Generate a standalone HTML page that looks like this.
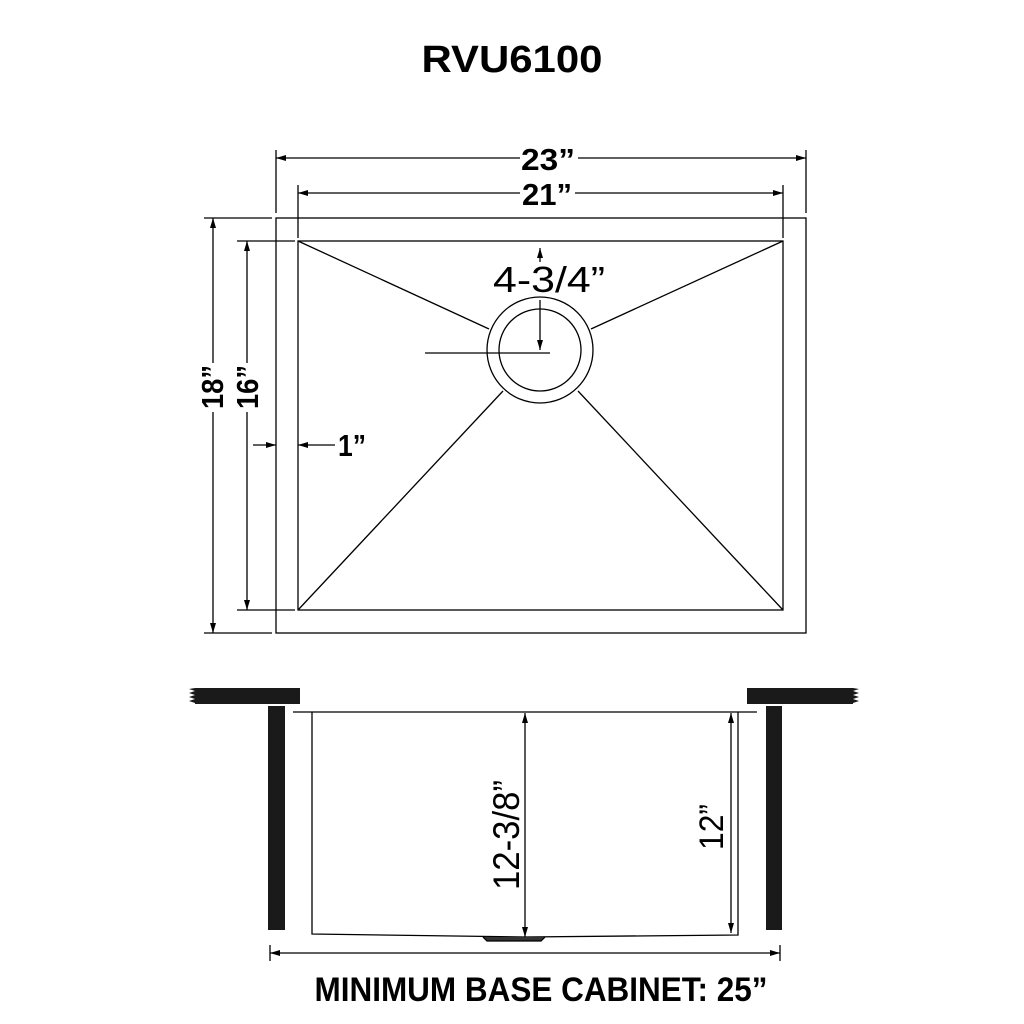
<!DOCTYPE html>
<html><head><meta charset="utf-8"><style>
html,body{margin:0;padding:0;background:#fff;}
svg{display:block;}
text{font-family:"Liberation Sans",sans-serif;fill:#000;}
</style></head><body>
<svg width="1024" height="1024" viewBox="0 0 1024 1024" xmlns="http://www.w3.org/2000/svg">
<defs>
<marker id="a" viewBox="0 0 10 6" refX="10" refY="3" markerWidth="10" markerHeight="6" markerUnits="userSpaceOnUse" orient="auto-start-reverse"><path d="M0,0 L10,3 L0,6 z" fill="#000"/></marker>
</defs>
<rect width="1024" height="1024" fill="#fff"/>
<text x="512" y="72" text-anchor="middle" font-size="38" font-weight="bold" textLength="181" lengthAdjust="spacingAndGlyphs">RVU6100</text>

<g stroke="#000" stroke-width="1.3" fill="none">
<rect x="276" y="218" width="530" height="415"/>
<rect x="298" y="241" width="485" height="369"/>
<circle cx="540" cy="350" r="53"/>
<circle cx="540" cy="350" r="41"/>
<line x1="298" y1="241" x2="489" y2="329"/>
<line x1="783" y1="241" x2="591" y2="329"/>
<line x1="298" y1="610" x2="503" y2="391"/>
<line x1="783" y1="610" x2="578" y2="391"/>
<line x1="425" y1="353" x2="550" y2="353"/>
<line x1="540" y1="262" x2="540" y2="248" marker-end="url(#a)"/>
<line x1="540" y1="300" x2="540" y2="350" marker-end="url(#a)"/>
<line x1="276" y1="150" x2="276" y2="213"/>
<line x1="806" y1="150" x2="806" y2="213"/>
<line x1="298" y1="185" x2="298" y2="238"/>
<line x1="783" y1="185" x2="783" y2="238"/>
<line x1="204" y1="218" x2="272" y2="218"/>
<line x1="237" y1="241" x2="295" y2="241"/>
<line x1="204" y1="633" x2="272" y2="633"/>
<line x1="237" y1="610" x2="295" y2="610"/>
<line x1="520" y1="158" x2="276" y2="158" marker-end="url(#a)"/>
<line x1="578" y1="158" x2="806" y2="158" marker-end="url(#a)"/>
<line x1="520" y1="193" x2="298" y2="193" marker-end="url(#a)"/>
<line x1="575" y1="193" x2="783" y2="193" marker-end="url(#a)"/>
<line x1="213" y1="363" x2="213" y2="218" marker-end="url(#a)"/>
<line x1="213" y1="412" x2="213" y2="633" marker-end="url(#a)"/>
<line x1="247" y1="363" x2="247" y2="241" marker-end="url(#a)"/>
<line x1="247" y1="412" x2="247" y2="610" marker-end="url(#a)"/>
<line x1="253" y1="445" x2="276" y2="445" marker-end="url(#a)"/>
<line x1="335" y1="445" x2="298" y2="445" marker-end="url(#a)"/>
<line x1="293" y1="712" x2="757" y2="712"/>
<polyline points="312,712 312,934 525,937 738,935 738,712"/>
<path d="M483,937 L487,941 L541,941 L545,937" fill="#333"/>
<line x1="525" y1="825" x2="525" y2="713" marker-end="url(#a)"/>
<line x1="525" y1="825" x2="525" y2="937" marker-end="url(#a)"/>
<line x1="731" y1="823" x2="731" y2="713" marker-end="url(#a)"/>
<line x1="731" y1="823" x2="731" y2="933" marker-end="url(#a)"/>
<line x1="525" y1="953" x2="270" y2="953" marker-end="url(#a)"/>
<line x1="525" y1="953" x2="780" y2="953" marker-end="url(#a)"/>
<line x1="270" y1="945" x2="270" y2="961"/>
<line x1="780" y1="945" x2="780" y2="961"/>
</g>

<rect x="195" y="688" width="105" height="16" fill="#1a1a1a"/>
<path d="M195,688 L189,689 L195,691 L189,693 L195,695 L189,697 L195,699 L189,701 L195,703 z" fill="#1a1a1a"/>
<rect x="268" y="706" width="17" height="224" fill="#1a1a1a"/>
<rect x="747" y="688" width="106" height="16" fill="#1a1a1a"/>
<path d="M853,688 L859,689 L853,691 L859,693 L853,695 L859,697 L853,699 L859,701 L853,703 z" fill="#1a1a1a"/>
<rect x="766" y="706" width="16" height="224" fill="#1a1a1a"/>

<text x="548" y="170" text-anchor="middle" font-size="31" font-weight="bold" textLength="54" lengthAdjust="spacingAndGlyphs">23”</text>
<text x="547" y="205" text-anchor="middle" font-size="31" font-weight="bold" textLength="50" lengthAdjust="spacingAndGlyphs">21”</text>
<text x="549" y="292" text-anchor="middle" font-size="36" textLength="112" lengthAdjust="spacingAndGlyphs">4-3/4”</text>
<text x="338" y="456" font-size="31" font-weight="bold" textLength="28" lengthAdjust="spacingAndGlyphs">1”</text>
<text transform="translate(223,387) rotate(-90)" text-anchor="middle" font-size="31" font-weight="bold" textLength="44" lengthAdjust="spacingAndGlyphs">18”</text>
<text transform="translate(258,387) rotate(-90)" text-anchor="middle" font-size="31" font-weight="bold" textLength="44" lengthAdjust="spacingAndGlyphs">16”</text>
<text transform="translate(519,835) rotate(-90)" text-anchor="middle" font-size="37" textLength="110" lengthAdjust="spacingAndGlyphs">12-3/8”</text>
<text transform="translate(723,827) rotate(-90)" text-anchor="middle" font-size="34" textLength="46" lengthAdjust="spacingAndGlyphs">12”</text>
<text x="541" y="1001" text-anchor="middle" font-size="34" font-weight="bold" textLength="453" lengthAdjust="spacingAndGlyphs">MINIMUM BASE CABINET: 25”</text>
</svg>
</body></html>
